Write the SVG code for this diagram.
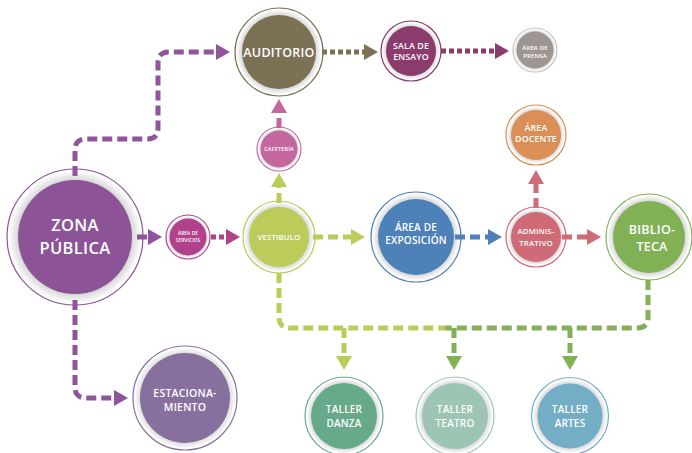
<svg xmlns="http://www.w3.org/2000/svg" width="692" height="453" viewBox="0 0 692 453">
<style>
.bg{fill:#ffffff}
.outer{fill:#ffffff;stroke-width:1.2}
.ring{fill:url(#ringGrad)}
.t{font-family:"Open Sans","Liberation Sans",sans-serif;font-weight:600;fill:#ffffff;text-anchor:middle;letter-spacing:0.02em}
.c{fill:none;stroke-width:5;stroke-dasharray:10 5}
.d{fill:none;stroke-width:5;stroke-dasharray:5 3}
</style>
<defs>
<radialGradient id="ringGrad" cx="0.5" cy="0.5" r="0.5">
<stop offset="0.8" stop-color="#a8a8a8"/>
<stop offset="0.88" stop-color="#dcdcdc"/>
<stop offset="1" stop-color="#fdfdfd"/>
</radialGradient>
<marker id="mPur" viewBox="0 0 14 16" refX="0" refY="8" markerWidth="14" markerHeight="16" markerUnits="userSpaceOnUse" orient="auto"><path d="M0,0 L14,8 L0,16 Z" fill="#8e559a"/></marker>
<marker id="mMag" viewBox="0 0 14 16" refX="0" refY="8" markerWidth="14" markerHeight="16" markerUnits="userSpaceOnUse" orient="auto"><path d="M0,0 L14,8 L0,16 Z" fill="#b2418b"/></marker>
<marker id="mLime" viewBox="0 0 14 16" refX="0" refY="8" markerWidth="14" markerHeight="16" markerUnits="userSpaceOnUse" orient="auto"><path d="M0,0 L14,8 L0,16 Z" fill="#bccb5a"/></marker>
<marker id="mPink" viewBox="0 0 14 16" refX="0" refY="8" markerWidth="14" markerHeight="16" markerUnits="userSpaceOnUse" orient="auto"><path d="M0,0 L14,8 L0,16 Z" fill="#c5679f"/></marker>
<marker id="mOlive" viewBox="0 0 14 16" refX="0" refY="8" markerWidth="14" markerHeight="16" markerUnits="userSpaceOnUse" orient="auto"><path d="M0,0 L14,8 L0,16 Z" fill="#7b7155"/></marker>
<marker id="mMaroon" viewBox="0 0 14 16" refX="0" refY="8" markerWidth="14" markerHeight="16" markerUnits="userSpaceOnUse" orient="auto"><path d="M0,0 L14,8 L0,16 Z" fill="#8b3b6c"/></marker>
<marker id="mBlue" viewBox="0 0 14 16" refX="0" refY="8" markerWidth="14" markerHeight="16" markerUnits="userSpaceOnUse" orient="auto"><path d="M0,0 L14,8 L0,16 Z" fill="#4f81b9"/></marker>
<marker id="mRose" viewBox="0 0 14 16" refX="0" refY="8" markerWidth="14" markerHeight="16" markerUnits="userSpaceOnUse" orient="auto"><path d="M0,0 L14,8 L0,16 Z" fill="#cf6b77"/></marker>
<marker id="mGreen" viewBox="0 0 14 16" refX="0" refY="8" markerWidth="14" markerHeight="16" markerUnits="userSpaceOnUse" orient="auto"><path d="M0,0 L14,8 L0,16 Z" fill="#82b155"/></marker>
</defs>
<rect class="bg" x="0" y="0" width="692" height="453"/>

<g id="nodes">
<g id="zona-publica">
<circle class="outer" cx="75" cy="237" r="68" stroke="#8c5497"/>
<circle class="ring" cx="75" cy="237" r="66"/>
<circle cx="75" cy="237" r="57" fill="#8c5497"/>
<text class="t" x="75" y="231" font-size="16.5">ZONA</text>
<text class="t" x="75" y="254" font-size="16.5">PÚBLICA</text>
</g>
<g id="auditorio">
<circle class="outer" cx="279" cy="52" r="44" stroke="#7b7155"/>
<circle class="ring" cx="279" cy="52" r="42.5"/>
<circle cx="279" cy="52" r="37" fill="#7b7155"/>
<text class="t" x="279" y="56.5" font-size="12.5">AUDITORIO</text>
</g>
<g id="sala-de-ensayo">
<circle class="outer" cx="411" cy="51" r="30" stroke="#8b3b6c"/>
<circle class="ring" cx="411" cy="51" r="28.5"/>
<circle cx="411" cy="51" r="25" fill="#8b3b6c"/>
<text class="t" x="411" y="49" font-size="8.8">SALA DE</text>
<text class="t" x="411" y="60" font-size="8.8">ENSAYO</text>
</g>
<g id="area-de-prensa">
<circle class="outer" cx="535" cy="50" r="22" stroke="#9e9690" stroke-opacity="0.6"/>
<circle class="ring" cx="535" cy="50" r="21"/>
<circle cx="535" cy="50" r="18.5" fill="#9e9690"/>
<text class="t" x="535" y="50" font-size="6">ÁREA DE</text>
<text class="t" x="535" y="57.5" font-size="6">PRENSA</text>
</g>
<g id="area-docente">
<circle class="outer" cx="536" cy="135" r="30" stroke="#d98f55"/>
<circle class="ring" cx="536" cy="135" r="28.5"/>
<circle cx="536" cy="135" r="25" fill="#d98f55"/>
<text class="t" x="536" y="131" font-size="8.8">ÁREA</text>
<text class="t" x="536" y="142" font-size="8.8">DOCENTE</text>
</g>
<g id="cafeteria">
<circle class="outer" cx="279" cy="149" r="22" stroke="#c5679f"/>
<circle class="ring" cx="279" cy="149" r="21"/>
<circle cx="279" cy="149" r="18.5" fill="#c5679f"/>
<text class="t" x="279" y="151" font-size="5.6">CAFETERÍA</text>
</g>
<g id="area-de-servicios">
<circle class="outer" cx="188" cy="237" r="22" stroke="#b2418b"/>
<circle class="ring" cx="188" cy="237" r="21"/>
<circle cx="188" cy="237" r="18.5" fill="#b2418b"/>
<text class="t" x="188" y="235" font-size="4.8">ÁREA DE</text>
<text class="t" x="188" y="242" font-size="4.8">SERVICIOS</text>
</g>
<g id="vestibulo">
<circle class="outer" cx="279" cy="237" r="36" stroke="#bccb5a"/>
<circle class="ring" cx="279" cy="237" r="34.5"/>
<circle cx="279" cy="237" r="30" fill="#bccb5a"/>
<text class="t" x="279" y="240" font-size="7.8">VESTIBULO</text>
</g>
<g id="area-de-exposicion">
<circle class="outer" cx="416" cy="237" r="45" stroke="#4f81b9"/>
<circle class="ring" cx="416" cy="237" r="43.5"/>
<circle cx="416" cy="237" r="38" fill="#4f81b9"/>
<text class="t" x="416" y="231" font-size="10">ÁREA DE</text>
<text class="t" x="416" y="243.5" font-size="10">EXPOSICIÓN</text>
</g>
<g id="administrativo">
<circle class="outer" cx="536" cy="237" r="30" stroke="#cf6b77"/>
<circle class="ring" cx="536" cy="237" r="28.5"/>
<circle cx="536" cy="237" r="25" fill="#cf6b77"/>
<text class="t" x="536" y="234" font-size="7.8">ADMINIS-</text>
<text class="t" x="536" y="246" font-size="7.8">TRATIVO</text>
</g>
<g id="biblioteca">
<circle class="outer" cx="649" cy="237" r="43" stroke="#82b155"/>
<circle class="ring" cx="649" cy="237" r="41.5"/>
<circle cx="649" cy="237" r="36" fill="#82b155"/>
<text class="t" x="652" y="234" font-size="12.5">BIBLIO-</text>
<text class="t" x="652" y="251" font-size="12.5">TECA</text>
</g>
<g id="estacionamiento">
<circle class="outer" cx="185" cy="398" r="52" stroke="#87709e"/>
<circle class="ring" cx="185" cy="398" r="50.5"/>
<circle cx="185" cy="398" r="45" fill="#87709e"/>
<text class="t" x="185" y="397" font-size="10.5">ESTACIONA-</text>
<text class="t" x="185" y="411" font-size="10.5">MIENTO</text>
</g>
<g id="taller-danza">
<circle class="outer" cx="344" cy="416" r="39" stroke="#66aa8a"/>
<circle class="ring" cx="344" cy="416" r="37.5"/>
<circle cx="344" cy="416" r="33" fill="#66aa8a"/>
<text class="t" x="344" y="413" font-size="10">TALLER</text>
<text class="t" x="344" y="427" font-size="10">DANZA</text>
</g>
<g id="taller-teatro">
<circle class="outer" cx="455" cy="416" r="39" stroke="#9cc5b4"/>
<circle class="ring" cx="455" cy="416" r="37.5"/>
<circle cx="455" cy="416" r="33" fill="#9cc5b4"/>
<text class="t" x="455" y="413" font-size="10">TALLER</text>
<text class="t" x="455" y="427" font-size="10">TEATRO</text>
</g>
<g id="taller-artes">
<circle class="outer" cx="570" cy="416" r="38.5" stroke="#74adc6"/>
<circle class="ring" cx="570" cy="416" r="37"/>
<circle cx="570" cy="416" r="32.5" fill="#74adc6"/>
<text class="t" x="570" y="413" font-size="10">TALLER</text>
<text class="t" x="570" y="427" font-size="10">ARTES</text>
</g>
</g>

<g id="connectors">
<path class="c" stroke="#8e559a" d="M75,176 V150 Q75,139 86,139 H147 Q158,139 158,128 V63 Q158,52 169,52 H216" marker-end="url(#mPur)"/>
<path class="c" stroke="#8e559a" d="M75,300 V387 Q75,398 86,398 H114" marker-end="url(#mPur)"/>
<path class="c" stroke="#8e559a" d="M137,237 H148" stroke-dasharray="6 3" marker-end="url(#mPur)"/>
<path class="d" stroke="#b2418b" d="M211,237 H226" stroke-dasharray="6 3" marker-end="url(#mMag)"/>
<path class="c" stroke="#bccb5a" d="M279,203 V187" stroke-dasharray="8 3" marker-end="url(#mLime)"/>
<path class="c" stroke="#c5679f" d="M279,128 V113" stroke-dasharray="8 3" marker-end="url(#mPink)"/>
<path class="d" stroke="#7b7155" d="M322,52 H364" marker-end="url(#mOlive)"/>
<path class="d" stroke="#8b3b6c" d="M441,51 H495" marker-end="url(#mMaroon)"/>
<path class="c" stroke="#bccb5a" d="M313,237 H351" marker-end="url(#mLime)"/>
<path class="c" stroke="#4f81b9" d="M455,237 H488" marker-end="url(#mBlue)"/>
<path class="c" stroke="#cf6b77" d="M562,237 H587" marker-end="url(#mRose)"/>
<path class="c" stroke="#cf6b77" d="M536,208 V184" marker-end="url(#mRose)"/>
<path class="c" stroke="#bccb5a" d="M279,273 V317 Q279,328 290,328 H445"/>
<path class="c" stroke="#bccb5a" d="M344,328 V356" marker-end="url(#mLime)"/>
<path class="c" stroke="#82b155" d="M648,280 V317 Q648,328 637,328 H445"/>
<path class="c" stroke="#82b155" d="M454,328 V356" marker-end="url(#mGreen)"/>
<path class="c" stroke="#82b155" d="M570,328 V356" marker-end="url(#mGreen)"/>
</g>
</svg>
